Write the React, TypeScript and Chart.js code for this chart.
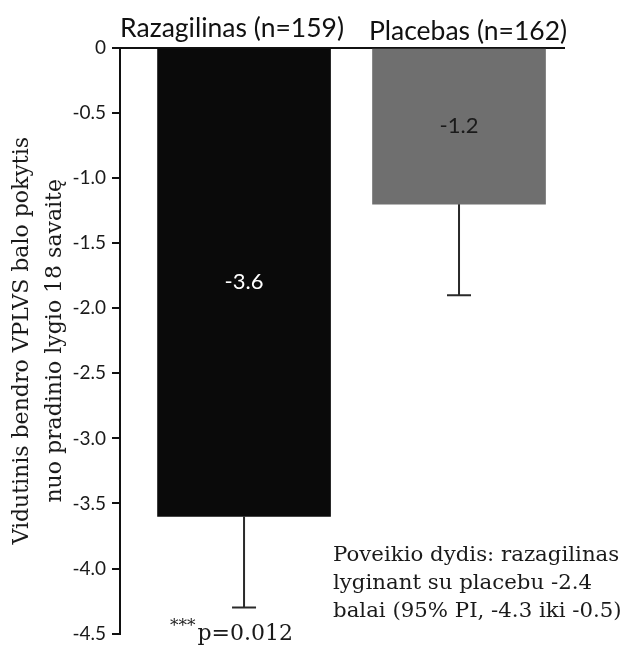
import React, { useEffect, useRef } from "react";
import { Chart, registerables } from "chart.js";

Chart.register(...registerables);

const categories = ["Razagilinas (n=159)", "Placebas (n=162)"];
const meanChange = [-3.6, -1.2];
const errorLow = [-4.3, -1.9];
const valueLabels = ["-3.6", "-1.2"];
const yTicks = [0, -0.5, -1.0, -1.5, -2.0, -2.5, -3.0, -3.5, -4.0, -4.5];
const yTitle = ["Vidutinis bendro VPLVS balo pokytis", "nuo pradinio lygio 18 savaitę"];
const pValue = "p=0.012";
const pStars = "***";
const effectNote = [
  "Poveikio dydis: razagilinas",
  "lyginant su placebu -2.4",
  "balai (95% PI, -4.3 iki -0.5)",
];

const barColors = ["#0a0a0a", "#6f6f6f"];
const valueColors = ["#ffffff", "#1a1a1a"];
const SANS = "Lato, 'Open Sans', sans-serif";
const SERIF = "'DejaVu Serif', serif";

const overlayPlugin = {
  id: "overlay",
  afterDatasetsDraw(chart: any) {
    const { ctx } = chart;
    const xs = chart.scales.x;
    const ys = chart.scales.y;
    ctx.save();
    // error bars
    meanChange.forEach((v, i) => {
      const x = xs.getPixelForValue(i);
      const y0 = ys.getPixelForValue(v);
      const y1 = ys.getPixelForValue(errorLow[i]);
      ctx.strokeStyle = "#2a2a2a";
      ctx.lineWidth = 2;
      ctx.beginPath();
      ctx.moveTo(x, y0);
      ctx.lineTo(x, y1);
      ctx.moveTo(x - 12, y1);
      ctx.lineTo(x + 12, y1);
      ctx.stroke();
      // value label
      ctx.fillStyle = valueColors[i];
      ctx.font = `22px ${SANS}`;
      ctx.textAlign = "center";
      ctx.textBaseline = "middle";
      ctx.fillText(valueLabels[i], x, ys.getPixelForValue(v / 2));
    });
    // category labels above
    const catOffsets = [-12, 9];
    const catY = [28, 31];
    ctx.fillStyle = "#111";
    ctx.font = `26.5px ${SANS}`;
    ctx.textAlign = "center";
    ctx.textBaseline = "middle";
    categories.forEach((c, i) => {
      ctx.fillText(c, xs.getPixelForValue(i) + catOffsets[i], catY[i]);
    });
    // p value
    ctx.fillStyle = "#1a1a1a";
    ctx.textAlign = "left";
    ctx.textBaseline = "middle";
    ctx.font = `17px ${SERIF}`;
    const sx = 170;
    ctx.fillText(pStars, sx, 627);
    const sw = ctx.measureText(pStars).width;
    ctx.font = `22px ${SERIF}`;
    ctx.fillText(pValue, sx + sw + 2, 634);
    // effect note
    ctx.font = `21.3px ${SERIF}`;
    effectNote.forEach((line, k) => {
      ctx.fillText(line, 333, 555 + k * 28);
    });
    ctx.restore();
  },
};

export default function App() {
  const ref = useRef<HTMLCanvasElement | null>(null);
  useEffect(() => {
    document.body.style.margin = "0";
    const canvas = ref.current;
    if (!canvas) return;
    const chart = new Chart(canvas, {
      type: "bar",
      data: {
        datasets: [
          {
            data: meanChange.map((v, i) => ({ x: i, y: v })),
            backgroundColor: barColors,
            borderWidth: 0,
            barThickness: 173,
          },
        ],
      },
      options: {
        responsive: false,
        animation: false,
        layout: { padding: { left: 0, top: 48, right: 60, bottom: 17 } },
        plugins: {
          legend: { display: false },
          tooltip: { enabled: false },
        },
        scales: {
          x: {
            type: "linear",
            min: -0.577,
            max: 1.493,
            offset: false,
            display: false,
          },
          y: {
            min: -4.5,
            max: 0,
            afterFit: (scale: any) => {
              scale.width = 120;
            },
            afterBuildTicks: (scale: any) => {
              scale.ticks = yTicks.map((v) => ({ value: v }));
            },
            ticks: {
              color: "#1a1a1a",
              font: { family: SANS, size: 19 },
              padding: 6,
              callback: (v: any) => (Number(v) === 0 ? "0" : Number(v).toFixed(1)),
            },
            grid: {
              color: (c: any) => (c.tick && c.tick.value === 0 ? "#111" : "rgba(0,0,0,0)"),
              tickColor: "#111",
              tickLength: 8,
              lineWidth: 2,
            },
            border: { display: true, color: "#111", width: 2 },
            title: {
              display: true,
              text: yTitle,
              color: "#1a1a1a",
              font: { family: SERIF, size: 22, lineHeight: 1.5 },
              padding: { top: 6, bottom: 0 },
            },
          },
        },
      },
      plugins: [overlayPlugin],
    });
    return () => chart.destroy();
  }, []);
  return (
    <div style={{ position: "fixed", left: 0, top: 0, width: 625, height: 651, background: "#fff" }}>
      <canvas ref={ref} width={625} height={651} />
    </div>
  );
}
